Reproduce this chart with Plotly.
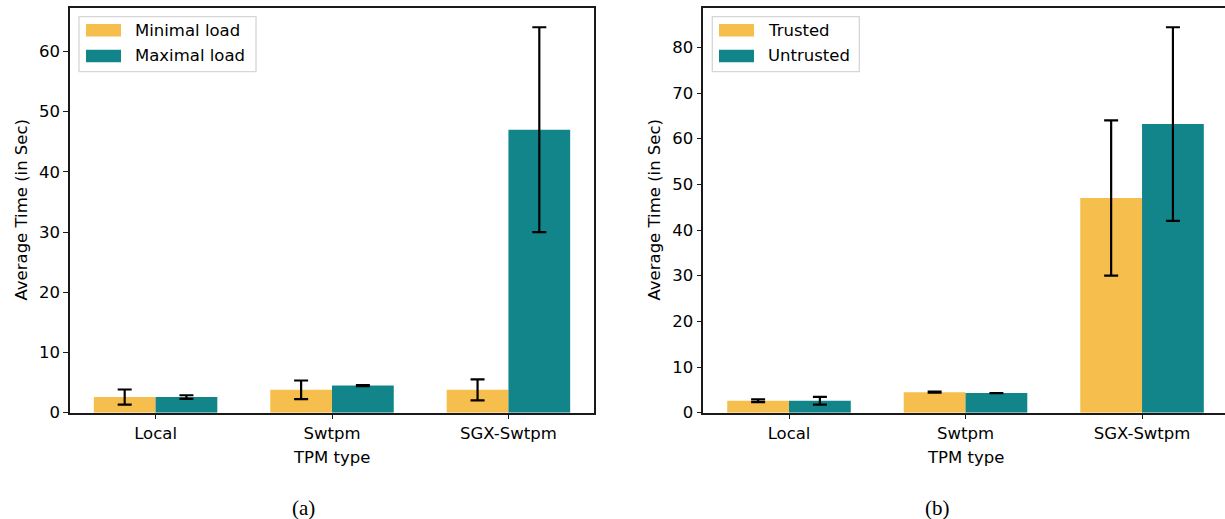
import plotly.graph_objects as go

# ---- data -------------------------------------------------------------
categories = ["Local", "Swtpm", "SGX-Swtpm"]

# (a) minimal vs maximal load
minimal_load = [2.6, 3.8, 3.8]
minimal_load_err = [1.25, 1.55, 1.75]
maximal_load = [2.6, 4.5, 47.0]
maximal_load_err = [0.3, 0.1, 17.0]

# (b) trusted vs untrusted
trusted = [2.6, 4.5, 47.0]
trusted_err = [0.3, 0.1, 17.0]
untrusted = [2.6, 4.3, 63.2]
untrusted_err = [0.85, None, 21.2]

series_a = ["Minimal load", "Maximal load"]
series_b = ["Trusted", "Untrusted"]

# ---- styling ----------------------------------------------------------
W, H = 1225, 519
YELLOW = "#F6BE4C"
TEAL = "#11858A"
FONT = "DejaVu Sans"
FS = 16.5
SPINE = "#1a1a1a"

# paper fractions are laid out against the drawable height
PAPER_H = 509


def px_x(p):
    return p / W


def px_y(p):
    return 1 - p / PAPER_H


def ymax(vals, errs):
    return max(v + (e or 0) for v, e in zip(vals, errs)) * 1.05


fig = go.Figure()


def add_bars(vals, errs, name, color, xa, ya):
    fig.add_trace(go.Bar(
        x=categories, y=vals, name=name, marker=dict(color=color, line=dict(width=0)),
        error_y=dict(type="data", array=errs, visible=True, color="black",
                     thickness=2.2, width=7),
        xaxis=xa, yaxis=ya, showlegend=False, offsetgroup=name,
    ))


add_bars(minimal_load, minimal_load_err, series_a[0], YELLOW, "x", "y")
add_bars(maximal_load, maximal_load_err, series_a[1], TEAL, "x", "y")
add_bars(trusted, trusted_err, series_b[0], YELLOW, "x2", "y2")
add_bars(untrusted, untrusted_err, series_b[1], TEAL, "x2", "y2")

ydom = [px_y(412.7), px_y(8)]
axis_common = dict(
    showgrid=False, zeroline=False, showline=True, linecolor=SPINE, linewidth=1.5,
    ticks="outside", ticklen=5, tickwidth=1.3, tickcolor=SPINE,
    tickfont=dict(family=FONT, size=FS, color="black"),
)

fig.update_layout(
    width=W, height=H, autosize=False, margin=dict(l=0, r=0, t=0, b=0),
    plot_bgcolor="white", paper_bgcolor="white",
    barmode="group", bargap=0.3, bargroupgap=0,
    xaxis=dict(domain=[px_x(70), px_x(594)], range=[-0.485, 2.485], anchor="y",
               mirror=True, **axis_common),
    yaxis=dict(domain=ydom, range=[0, ymax(maximal_load, maximal_load_err)], anchor="x",
               mirror=True, dtick=10, **axis_common),
    xaxis2=dict(domain=[px_x(703.4), 1.0], range=[-0.485, 2.470], anchor="y2",
                mirror=True, **axis_common),
    yaxis2=dict(domain=ydom, range=[0, ymax(untrusted, untrusted_err)], anchor="x2",
                mirror=False, dtick=10, **axis_common),
)

# ---- axis titles and captions ----------------------------------------
ann = []
for cx in [332, 965.7]:
    ann.append(dict(text="TPM type", x=px_x(cx), y=px_y(457.5), xref="paper", yref="paper",
                    showarrow=False, xanchor="center", yanchor="middle",
                    font=dict(family=FONT, size=FS, color="black")))
for cx, cap in [(303, "(a)"), (937, "(b)")]:
    ann.append(dict(text=cap, x=px_x(cx), y=px_y(508), xref="paper", yref="paper",
                    showarrow=False, xanchor="center", yanchor="middle",
                    font=dict(family="Liberation Serif", size=21, color="black")))
for cx in [21, 654]:
    ann.append(dict(text="Average Time (in Sec)", x=px_x(cx), y=px_y(210.5),
                    xref="paper", yref="paper", showarrow=False, textangle=-90,
                    xanchor="center", yanchor="middle",
                    font=dict(family=FONT, size=FS, color="black")))

# ---- legends ----------------------------------------------------------
shapes = []


def legend_box(x0, x1, names, patch_x, text_x):
    shapes.append(dict(type="rect", xref="paper", yref="paper",
                       x0=px_x(x0), x1=px_x(x1), y0=px_y(71.7), y1=px_y(16.7),
                       line=dict(color="#d6d6d6", width=1.3), fillcolor="white"))
    for i, (name, color) in enumerate(zip(names, [YELLOW, TEAL])):
        cy = 30.3 + 25.7 * i
        shapes.append(dict(type="rect", xref="paper", yref="paper",
                           x0=px_x(patch_x), x1=px_x(patch_x + 35),
                           y0=px_y(cy + 6.2), y1=px_y(cy - 6.2),
                           line=dict(width=0), fillcolor=color))
        ann.append(dict(text=name, x=px_x(text_x), y=px_y(cy), xref="paper", yref="paper",
                        showarrow=False, xanchor="left", yanchor="middle",
                        font=dict(family=FONT, size=FS, color="black")))


legend_box(79, 256, series_a, 86, 133)
legend_box(712.3, 859.3, series_b, 719, 766)

fig.update_layout(annotations=ann, shapes=shapes)

fig.write_html("out.html", config={"responsive": False})
